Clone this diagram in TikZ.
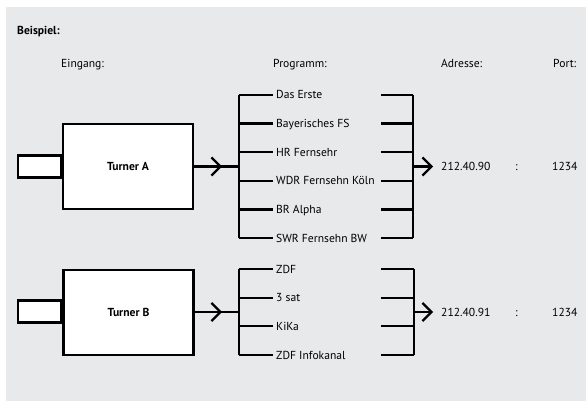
\documentclass[tikz,border=0pt]{standalone}
\usepackage{fontspec}
\setmainfont{PT Sans}
\usetikzlibrary{arrows.meta,positioning}
\definecolor{hintergrund}{HTML}{E8E9EB}

\tikzset{
  linie/.style={line width=2.2pt},
  pfeil/.style={linie,-{Straight Barb[length=9pt,width=18pt]}},
  tuner/.style={draw,line width=2.2pt,fill=white,minimum width=130pt,minimum height=85pt,font=\fontsize{11.6}{13}\selectfont\bfseries},
  eingang/.style={draw,line width=2.2pt,fill=white,minimum width=43pt,minimum height=22pt,inner sep=0pt},
  prog/.style={anchor=west,inner sep=3pt,text height=8pt,text depth=0pt},
  adresse/.style={anchor=west,inner xsep=8pt,text height=8pt,text depth=0pt},
  eintrag/.style={anchor=west,inner sep=0pt,text height=8pt,text depth=0pt},
  kopf/.style={anchor=base west,inner sep=0pt}
}

\begin{document}
\begin{tikzpicture}[x=1pt,y=-1pt,font=\fontsize{11.6}{13}\selectfont]
\fill[white] (0,0) rectangle (586,401);
\fill[hintergrund] (6,7) rectangle (586,401);

% Ueberschriften
\node[kopf,font=\fontsize{11.6}{13}\selectfont\bfseries] (beispiel) at (17,34.5) {Beispiel:};
\node[kopf] (keingang) at (61,68) {Eingang:};
\node[kopf] (kprogramm) at (273,68) {Programm:};
\node[kopf] (kadresse) at (441,68) {Adresse:};
\node[kopf] (kport) at (553,68) {Port:};

% Turner A
\node[tuner] (tunerA) at (128,166.5) {Turner A};
\node[eingang,anchor=east] (einA) at (tunerA.west) {};
\coordinate (barA) at (239,166.5);
\coordinate (spitzeA) at (222,166.5);
\draw[linie] (tunerA.east) -- (barA);
\draw[pfeil] (tunerA.east) -- (spitzeA);
\foreach \sender [count=\i from 0] in {Das Erste,Bayerisches FS,HR Fernsehr,WDR Fernsehn Köln,BR Alpha,SWR Fernsehn BW}{
  \coordinate (la\i) at (239,95+28.6*\i);
  \coordinate (ra\i) at (381,95+28.6*\i);
  \coordinate (sa\i) at (413,95+28.6*\i);
  \node[prog] (pa\i) at (273,95+28.6*\i) {\sender};
  \draw[linie] (la\i) -- (pa\i.west);
  \draw[linie] (ra\i) -- (sa\i);
}
\draw[linie] (la0) -- (la5);
\draw[linie] (sa0) -- (sa5);
\coordinate (adrAm) at (413,166.5);
\node[adresse] (adrA) at (433,166.5) {212.40.90};
\draw[pfeil] (adrAm) -- (adrA.west);
\node[eintrag] (dpA) at (515,166.5) {:};
\node[eintrag] (portA) at (552,166.5) {1234};

% Turner B
\node[tuner] (tunerB) at (128.5,312.5) {Turner B};
\node[eingang,anchor=east] (einB) at ([yshift=1pt]tunerB.west) {};
\coordinate (barB) at (239,312);
\coordinate (spitzeB) at (222,312);
\draw[linie] (tunerB.east |- barB) -- (barB);
\draw[pfeil] (tunerB.east |- barB) -- (spitzeB);
\foreach \sender [count=\i from 0] in {ZDF,3 sat,KiKa,ZDF Infokanal}{
  \coordinate (lb\i) at (239,269+28.67*\i);
  \coordinate (rb\i) at (381,269+28.67*\i);
  \coordinate (sb\i) at (414,269+28.67*\i);
  \node[prog] (pb\i) at (273,269+28.67*\i) {\sender};
  \draw[linie] (lb\i) -- (pb\i.west);
  \draw[linie] (rb\i) -- (sb\i);
}
\draw[linie] (lb0) -- (lb3);
\draw[linie] (sb0) -- (sb3);
\coordinate (adrBm) at (414,312);
\node[adresse] (adrB) at (433,312) {212.40.91};
\draw[pfeil] (adrBm) -- (adrB.west);
\node[eintrag] (dpB) at (515,312) {:};
\node[eintrag] (portB) at (552,312) {1234};
\end{tikzpicture}
\end{document}
